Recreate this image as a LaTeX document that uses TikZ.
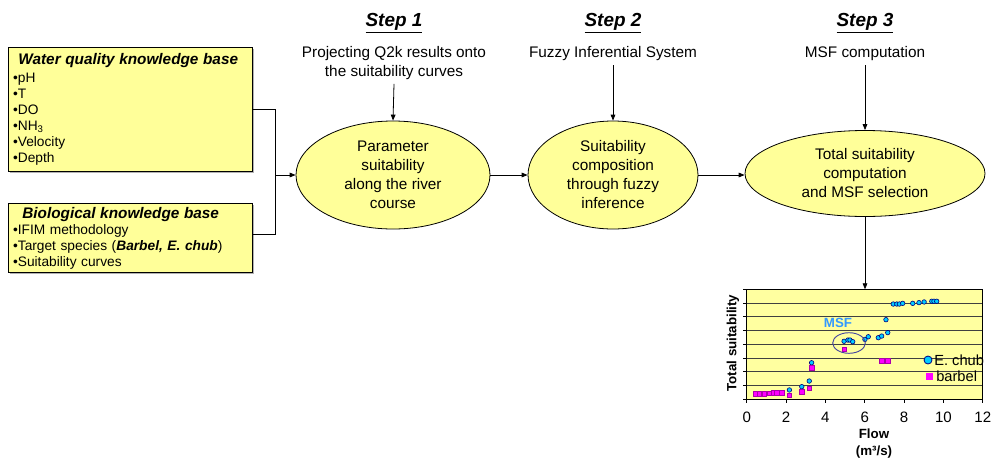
\documentclass[tikz,border=0pt]{standalone}
\usepackage{fontspec}
\setmainfont{Liberation Sans}
\usetikzlibrary{arrows.meta,shapes.geometric,shadows}
\definecolor{paleY}{RGB}{255,255,153}
\definecolor{chartY}{RGB}{255,255,160}
\definecolor{chubC}{RGB}{0,204,255}
\definecolor{chubE}{RGB}{0,0,128}
\definecolor{barbM}{RGB}{255,0,255}
\definecolor{barbE}{RGB}{170,0,170}
\definecolor{msfC}{RGB}{51,153,255}
\definecolor{msfE}{RGB}{70,70,160}
\begin{document}
\begin{tikzpicture}[x=0.75pt,y=-0.75pt,
  kb/.style={draw=black, fill=paleY, line width=0.6pt, align=left, anchor=north west,
    inner xsep=3.5pt, inner ysep=0pt, text width=176pt, minimum width=183pt,
    font=\fontsize{10.3}{12}\selectfont,
    drop shadow={shadow xshift=1.2pt, shadow yshift=-1.2pt, fill=gray!60, opacity=1}},
  proc/.style={ellipse, draw=black, fill=paleY, line width=0.6pt, inner sep=0pt,
    align=center, font=\fontsize{11.5}{14.25}\selectfont},
  steplbl/.style={anchor=base, inner sep=1pt, font=\fontsize{14.2}{16}\selectfont\bfseries\itshape},
  sub/.style={align=center, inner sep=3pt, font=\fontsize{11.5}{14.25}\selectfont},
  arr/.style={-{Triangle[length=4.5pt,width=3.5pt]}, line width=0.6pt},
  conn/.style={line width=0.6pt},
  grid/.style={black!75, line width=0.5pt},
  chub/.style={fill=chubC, draw=chubE, line width=0.45pt},
  barb/.style={fill=barbM, draw=barbE, line width=0.3pt},
  tick/.style={font=\fontsize{11.3}{13}\selectfont, inner sep=0pt},
  axlbl/.style={font=\fontsize{10}{12}\selectfont\bfseries, inner sep=0pt},
]
\useasboundingbox (0,0) rectangle (994,461);

% knowledge boxes
\node[kb, minimum height=93pt] (wq) at (8,47)
  {{\fontsize{11.5}{14}\selectfont\bfseries\itshape\hspace{4pt}Water quality knowledge base}\\[1.5pt]
   •pH\\ •T\\ •DO\\ •NH\textsubscript{3}\\ •Velocity\\ •Depth};
\node[kb, minimum height=51.75pt] (bio) at (8,203)
  {{\fontsize{11.5}{14}\selectfont\bfseries\itshape\hspace{7pt}Biological knowledge base}\\
   •IFIM methodology\\ •Target species (\textbf{\textit{Barbel, E. chub}})\\ •Suitability curves};

% steps
\node[steplbl] (s1) at (394,26) {\underline{Step 1}};
\node[steplbl] (s2) at (613,26) {\underline{Step 2}};
\node[steplbl] (s3) at (865,26) {\underline{Step 3}};

\node[sub] (p1) at (394,63) {Projecting Q2k results onto\\the suitability curves};
\node[sub] (p2) at (613,54) {Fuzzy Inferential System};
\node[sub] (p3) at (865,54) {MSF computation};

% process ellipses
\node[proc, minimum width=145.5pt, minimum height=81pt] (e1) at (393,175)
  {Parameter\\suitability\\along the river\\course};
\node[proc, minimum width=127.5pt, minimum height=81pt] (e2) at (613,175)
  {Suitability\\composition\\through fuzzy\\inference};
\node[proc, minimum width=180pt, minimum height=64.5pt] (e3) at (865,173.5)
  {Total suitability\\computation\\and MSF selection};

% connectors
\coordinate (jn) at (275,175);
\draw[conn] (wq.east) -| (jn);
\draw[conn] ([yshift=3pt]bio.east) -| (jn);
\draw[arr] (jn) -- (e1.west);
\draw[arr] (e1.east) -- (e2.west);
\draw[arr] (e2.east) -- (e2.east -| e3.west);
\draw[arr] (p1.south) -- (e1.north);
\draw[arr] (p2.south) -- (e2.north);
\draw[arr] (p3.south) -- (e3.north);
\coordinate (chtop) at (865,289.3);
\draw[arr] (e3.south) -- (chtop);

% chart
\begin{scope}[shift={(746.7,399.3)}, x=14.7525pt, y=10.3125pt]
  \fill[chartY] (0,0) rectangle (12,8);
  \foreach \v in {1,...,7} \draw[grid] (0,\v) -- (12,\v);
  \draw[line width=0.6pt] (0,0) rectangle (12,8);
  \foreach \v in {0,...,8} \draw[line width=0.5pt] (0,\v) -- ++(-3pt,0pt);
  \foreach \f in {0,2,...,12} {
    \draw[line width=0.5pt] (\f,0) -- ++(0pt,-3pt);
    \node[tick] (xt\f) at ([yshift=-13.3pt]\f,0) {\f};
  }
  % E. chub
  \foreach \px/\py in {2.17/0.68, 2.8/0.92, 3.18/1.33, 3.3/2.66,
     4.95/4.22, 5.15/4.31, 5.25/4.31, 5.39/4.19, 6.01/4.36, 6.18/4.55,
     6.69/4.48, 6.86/4.6, 7.17/4.85, 7.08/5.79,
     7.45/6.93, 7.63/6.93, 7.76/6.93, 7.93/6.98, 8.44/6.98, 8.76/7.03,
     9.02/7.08, 9.41/7.13, 9.52/7.13, 9.66/7.13}
    \draw[chub] (\px,\py) circle[radius=1.7pt];
  % barbel
  \foreach \px/\py in {0.42/0.39, 0.64/0.39, 0.9/0.39, 1.18/0.44, 1.36/0.48,
     1.53/0.48, 1.78/0.48, 2.17/0.31, 2.8/0.55, 3.18/0.8, 3.3/2.3,
     4.96/3.66, 6.86/2.81, 7.17/2.81}
    \draw[barb] ([xshift=-1.7pt,yshift=-1.7pt]\px,\py) rectangle ++(3.4pt,3.4pt);
\end{scope}

% MSF highlight
\node[font=\fontsize{10}{12}\selectfont\bfseries, text=msfC, inner sep=0pt] (msf) at (838,323) {MSF};
\draw[msfE, line width=0.7pt] (849,343) ellipse[x radius=16.3, y radius=10.3];

% legend
\draw[chub, line width=0.6pt] (928,360) circle[radius=3pt];
\node[anchor=west, font=\fontsize{11}{13}\selectfont, inner sep=0pt] (lg1) at (934,360) {E. chub};
\fill[barbM] (925.5,372.5) rectangle (932.5,379.5);
\node[anchor=west, font=\fontsize{11}{13}\selectfont, inner sep=0pt] (lg2) at (936,376.5) {barbel};

% axis labels
\node[axlbl, rotate=90] (ylab) at (733,343) {Total suitability};
\node[axlbl] (xlab) at (874,434) {Flow};
\node[axlbl] (xunit) at (874,452) {(m³/s)};
\end{tikzpicture}
\end{document}
